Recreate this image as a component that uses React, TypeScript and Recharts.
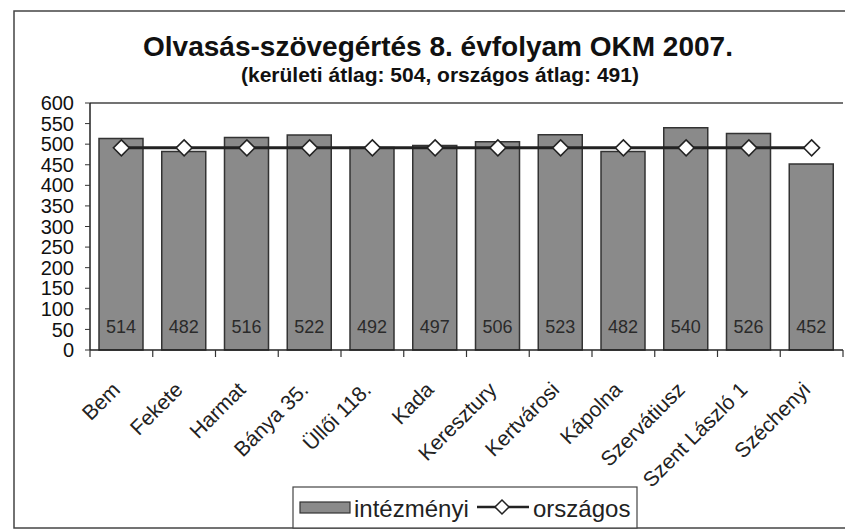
import React from "react";
import {
  ComposedChart,
  Bar,
  Line,
  XAxis,
  YAxis,
  LabelList,
  ReferenceLine,
  Customized,
} from "recharts";

const categories = [
  "Bem",
  "Fekete",
  "Harmat",
  "Bánya 35.",
  "Üllői 118.",
  "Kada",
  "Keresztury",
  "Kertvárosi",
  "Kápolna",
  "Szervátiusz",
  "Szent László 1",
  "Széchenyi",
];
const intezmenyi = [514, 482, 516, 522, 492, 497, 506, 523, 482, 540, 526, 452];
const orszagos = [491, 491, 491, 491, 491, 491, 491, 491, 491, 491, 491, 491];
const yTicks = [0, 50, 100, 150, 200, 250, 300, 350, 400, 450, 500, 550, 600];
const title = "Olvasás-szövegértés 8. évfolyam OKM 2007.";
const subtitle = "(kerületi átlag: 504, országos átlag: 491)";
const seriesNames = ["intézményi", "országos"];

const data = categories.map((c, i) => ({
  name: c,
  intezmenyi: intezmenyi[i],
  orszagos: orszagos[i],
}));

const FONT = "'Liberation Sans', Arial, sans-serif";

const XTick = (props: any) => {
  const { x, y, payload, index } = props;
  const count = categories.length;
  const band = 753 / count;
  const axisY = 350;
  const left = x - band / 2;
  const right = x + band / 2;
  return (
    <g>
      <line x1={left} y1={axisY} x2={left} y2={axisY + 7} stroke="#333" strokeWidth={1.2} />
      {index === count - 1 ? (
        <line x1={right} y1={axisY} x2={right} y2={axisY + 7} stroke="#333" strokeWidth={1.2} />
      ) : null}
      <g transform={`translate(${x},${y + 33})`}>
        <text
          transform="rotate(-45)"
          textAnchor="end"
          fontFamily={FONT}
          fontSize={21}
          fill="#222"
        >
          {payload.value}
        </text>
      </g>
    </g>
  );
};

const Diamond = (props: any) => {
  const { cx, cy } = props;
  if (cx == null || cy == null) return null;
  const r = 8;
  return (
    <polygon
      points={`${cx},${cy - r} ${cx + r},${cy} ${cx},${cy + r} ${cx - r},${cy}`}
      fill="#fff"
      stroke="#222"
      strokeWidth={1.5}
    />
  );
};

const BarLabel = (props: any) => {
  const { x, y, width, height, value } = props;
  return (
    <text
      x={x + width / 2}
      y={y + height - 17}
      textAnchor="middle"
      fontFamily={FONT}
      fontSize={18}
      fill="#2a2a2a"
    >
      {value}
    </text>
  );
};

const Decor = () => (
  <g>
    <rect x={14} y={11} width={840} height={517} fill="none" stroke="#444" strokeWidth={1.5} />
    <text x={438} y={56} textAnchor="middle" fontFamily={FONT} fontWeight="bold" fontSize={28} fill="#111">
      {title}
    </text>
    <text x={440} y={82} textAnchor="middle" fontFamily={FONT} fontWeight="bold" fontSize={21} fill="#111">
      {subtitle}
    </text>
    <rect x={293} y={487} width={344} height={41} fill="#fff" stroke="#444" strokeWidth={1.2} />
    <rect x={300} y={502} width={50} height={11} fill="#8a8a8a" stroke="#333" strokeWidth={1.2} />
    <text x={354} y={517} fontFamily={FONT} fontSize={24} fill="#222">
      {seriesNames[0]}
    </text>
    <line x1={477} y1={507} x2={529} y2={507} stroke="#222" strokeWidth={2.5} />
    <polygon points="502,500 509,507 502,514 495,507" fill="#fff" stroke="#222" strokeWidth={1.5} />
    <text x={533} y={517} fontFamily={FONT} fontSize={24} fill="#222">
      {seriesNames[1]}
    </text>
  </g>
);

export default function App() {
  return (
    <div style={{ position: "absolute", left: 0, top: 0, width: 845, height: 531, background: "#fff" }}>
      <ComposedChart
        width={845}
        height={531}
        data={data}
        margin={{ top: 103, right: 2, bottom: 81, left: 30 }}
      >
        <XAxis
          dataKey="name"
          interval={0}
          tick={<XTick />}
          tickLine={false}
          tickSize={6}
          tickMargin={2}
          axisLine={{ stroke: "#222", strokeWidth: 1.5 }}
          height={100}
        />
        <YAxis
          yAxisId="l"
          domain={[0, 600]}
          ticks={yTicks}
          interval={0}
          width={60}
          tickSize={5}
          tickLine={{ stroke: "#333" }}
          axisLine={{ stroke: "#222", strokeWidth: 1.5 }}
          tick={{ fontFamily: FONT, fontSize: 20, fill: "#111" }}
          tickMargin={11}
        />
        <YAxis
          yAxisId="r"
          orientation="right"
          domain={[0, 600]}
          width={0}
          tick={false}
          tickLine={false}
          axisLine={{ stroke: "#444", strokeWidth: 1.5 }}
        />
        <ReferenceLine yAxisId="l" y={600} stroke="#444" strokeWidth={1.5} />
        <Bar
          yAxisId="l"
          dataKey="intezmenyi"
          name={seriesNames[0]}
          fill="#8a8a8a"
          stroke="#333"
          strokeWidth={1.5}
          barSize={44}
          isAnimationActive={false}
        >
          <LabelList dataKey="intezmenyi" content={<BarLabel />} />
        </Bar>
        <Line
          yAxisId="l"
          dataKey="orszagos"
          name={seriesNames[1]}
          stroke="#222"
          strokeWidth={3}
          dot={<Diamond />}
          activeDot={false}
          isAnimationActive={false}
        />
        <Customized component={<Decor />} />
      </ComposedChart>
    </div>
  );
}
